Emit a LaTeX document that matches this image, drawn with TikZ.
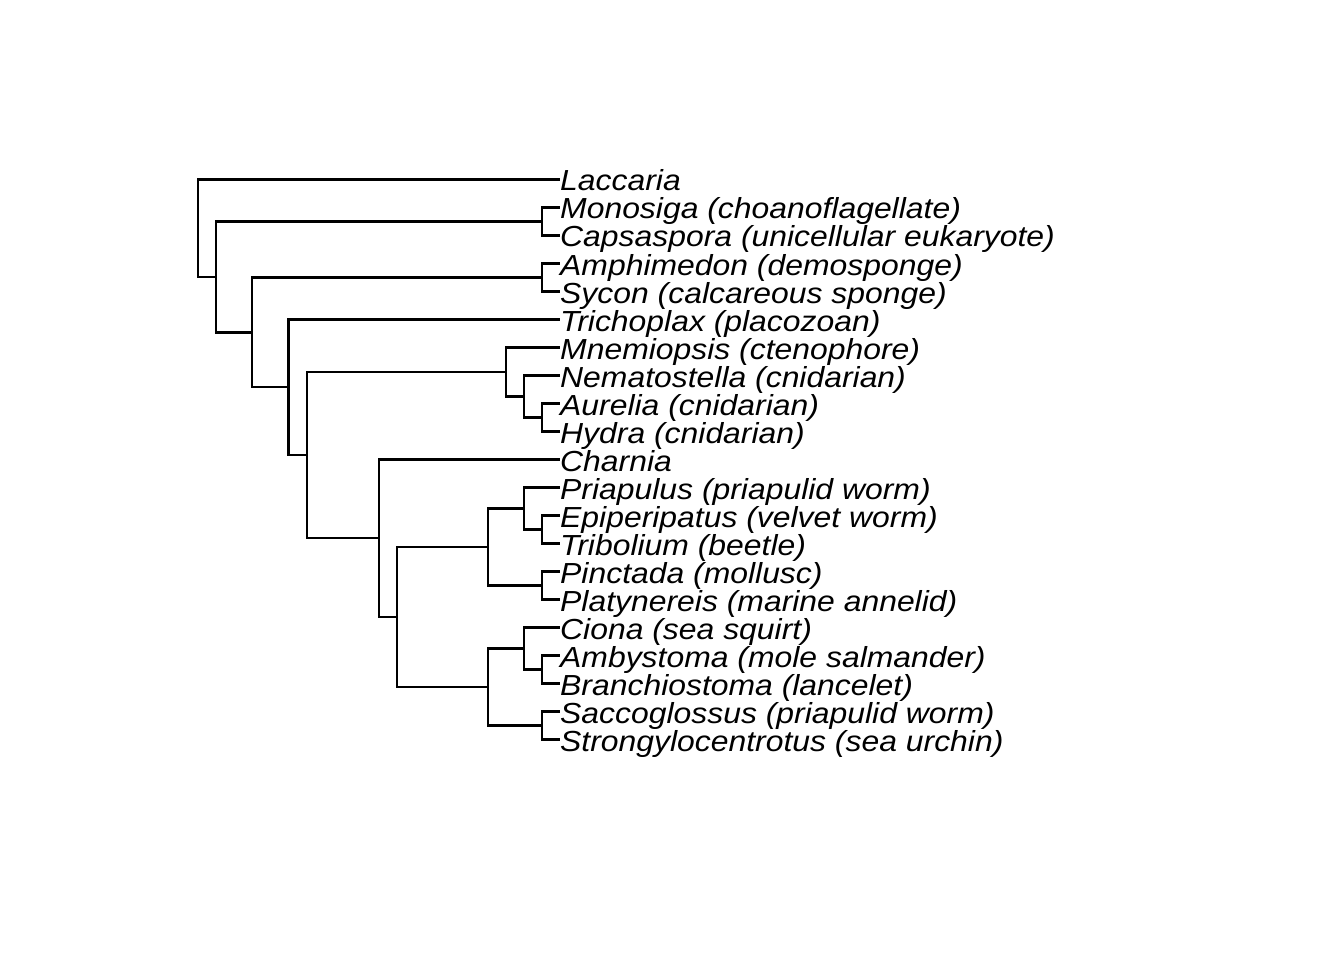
\documentclass[tikz,border=0pt]{standalone}
\usepackage{fontspec}
\setmainfont{Liberation Sans}
\newfontfamily\labfont[FakeStretch=1.1]{Liberation Sans}
\begin{document}
\begin{tikzpicture}[x=1pt,y=-1pt,
  edge/.style={draw=black,line width=2.2pt},
  lab/.style={anchor=base west,inner sep=0pt,font=\labfont\fontsize{29}{34}\selectfont\itshape}]
\useasboundingbox (0,0) rectangle (1344,960);
% tips
\foreach \i/\nm in {0/t0,1/t1,2/t2,3/t3,4/t4,5/t5,6/t6,7/t7,8/t8,9/t9,10/t10,11/t11,12/t12,13/t13,14/t14,15/t15,16/t16,17/t17,18/t18,19/t19,20/t20}
  \coordinate (\nm) at (560,{179.5+28*\i});
% internal nodes
\coordinate (nMC)  at (541.9,221.5);
\coordinate (nAS)  at (541.9,277.5);
\coordinate (nAH)  at (541.9,417.5);
\coordinate (nNAH) at (523.8,396.5);
\coordinate (nCn)  at (505.7,372);
\coordinate (nET)  at (541.9,529.5);
\coordinate (nPET) at (523.8,508.5);
\coordinate (nPP)  at (541.9,585.5);
\coordinate (nPro) at (487.6,547);
\coordinate (nAB)  at (541.9,669.5);
\coordinate (nCAB) at (523.8,648.5);
\coordinate (nSS)  at (541.9,725.5);
\coordinate (nDeu) at (487.6,687);
\coordinate (nBil) at (397.1,617);
\coordinate (n6)   at (379,538.25);
\coordinate (n5)   at (306.6,455.125);
\coordinate (n4)   at (288.5,387.3);
\coordinate (n3)   at (252.3,332.4);
\coordinate (n2)   at (216.1,276.95);
\coordinate (root) at (198,228.2);
% edges
\foreach \p/\c in {root/t0,root/n2,n2/nMC,n2/n3,nMC/t1,nMC/t2,n3/nAS,n3/n4,nAS/t3,nAS/t4,
  n4/t5,n4/n5,n5/nCn,n5/n6,nCn/t6,nCn/nNAH,nNAH/t7,nNAH/nAH,nAH/t8,nAH/t9,
  n6/t10,n6/nBil,nBil/nPro,nBil/nDeu,nPro/nPET,nPro/nPP,nPET/t11,nPET/nET,nET/t12,nET/t13,
  nPP/t14,nPP/t15,nDeu/nCAB,nDeu/nSS,nCAB/t16,nCAB/nAB,nAB/t17,nAB/t18,nSS/t19,nSS/t20}
  \draw[edge] (\p) |- (\c);
% labels
\foreach \i/\txt in {0/Laccaria,1/Monosiga (choanoflagellate),2/Capsaspora (unicellular eukaryote),
  3/Amphimedon (demosponge),4/Sycon (calcareous sponge),5/Trichoplax (placozoan),
  6/Mnemiopsis (ctenophore),7/Nematostella (cnidarian),8/Aurelia (cnidarian),9/Hydra (cnidarian),
  10/Charnia,11/Priapulus (priapulid worm),12/Epiperipatus (velvet worm),13/Tribolium (beetle),
  14/Pinctada (mollusc),15/Platynereis (marine annelid),16/Ciona (sea squirt),
  17/Ambystoma (mole salmander),18/Branchiostoma (lancelet),19/Saccoglossus (priapulid worm),
  20/Strongylocentrotus (sea urchin)}
  \node[lab] (L\i) at ([yshift=-11.5pt]t\i) {\txt};
\end{tikzpicture}
\end{document}
